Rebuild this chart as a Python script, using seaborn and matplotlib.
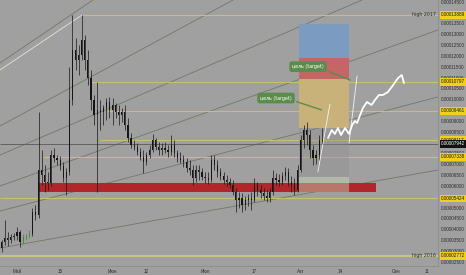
import matplotlib
matplotlib.use("Agg")
import matplotlib.pyplot as plt
import matplotlib.transforms as mtransforms
from matplotlib.patches import Rectangle
import numpy as np
import pandas as pd
import seaborn as sns

SAT = 1e-8  # values below are stored in units of 1e-8

# ---------------- data ----------------
days = list(range(-5, 100))  # days relative to 1 May
opens = [3135, 3412, 3596, 3504, 3642, 3689, 3873, 3412, 3642, 3689,
         3781, 4796, 4658, 6735, 6504, 6181, 6135, 7427, 7289, 7196,
         6919, 6366, 6642, 9965, 12272, 11811, 12042, 12734, 11811, 10980,
         9965, 9273, 9504, 9411, 9596, 9873, 9504, 9734, 9411, 9273,
         9411, 8811, 8211, 7888, 7796, 7565, 7335, 7104, 7427, 7658,
         8119, 7796, 7658, 7750, 7658, 7565, 7888, 7519, 7289, 7196,
         7104, 6827, 6735, 6366, 6735, 6642, 6412, 6366, 6273, 7196,
         6965, 6642, 6458, 6273, 6181, 6042, 5719, 5350, 5442, 5119,
         5350, 5442, 5350, 6042, 5812, 5673, 5535, 5442, 5719, 6366,
         6273, 6181, 6458, 6642, 6181, 6042, 5812, 6735, 8119, 8580,
         8350, 7658, 7289, 7427, 8119]
highs = [3504, 4427, 3873, 3781, 3827, 4104, 3966, 3781, 3781, 3966,
         4981, 5119, 9411, 7658, 6965, 6642, 7658, 7750, 7427, 7381,
         7104, 6827, 11488, 13889, 12826, 12503, 13889, 12965, 12272, 11350,
         10196, 10796, 9965, 9734, 10057, 10104, 10057, 9827, 9734, 9596,
         9734, 9134, 8442, 8119, 7981, 7750, 7658, 7565, 7888, 8396,
         8211, 8027, 7981, 8027, 7888, 8350, 8119, 7658, 7565, 7427,
         7289, 7196, 6965, 6965, 6965, 6827, 6642, 6642, 7427, 7427,
         7196, 6827, 6642, 6504, 6366, 6273, 5904, 5719, 5673, 5535,
         5627, 5719, 6366, 6181, 6042, 5904, 5812, 5904, 6735, 6596,
         6550, 6642, 6873, 6827, 6458, 6366, 6965, 8350, 8811, 8950,
         8580, 7888, 7658, 8350, 8673]
lows = [2950, 3273, 3227, 3365, 3504, 3504, 3181, 3319, 3504, 3596,
        3689, 4427, 4519, 6042, 5719, 5812, 5996, 7104, 6965, 6735,
        6181, 5581, 6504, 9734, 11350, 11119, 11811, 11350, 10657, 9504,
        8811, 5719, 8580, 8811, 9042, 9134, 8811, 9134, 8811, 8950,
        8580, 8027, 7750, 7658, 7427, 7196, 6596, 6965, 7289, 7565,
        7658, 7427, 7427, 7519, 7335, 7427, 7335, 7104, 7058, 6873,
        6642, 6504, 6042, 6181, 6273, 6273, 6135, 6088, 6181, 6735,
        6412, 6273, 6088, 5996, 5904, 5581, 4796, 4981, 4796, 4888,
        5073, 4888, 5257, 5535, 5442, 5350, 5257, 5257, 5581, 6042,
        5996, 6042, 6273, 5996, 5719, 5581, 5719, 6642, 7750, 7888,
        7289, 6965, 7011, 7196, 7888]
closes = [3412, 3596, 3504, 3642, 3689, 3873, 3412, 3642, 3689, 3781,
          4796, 4658, 6735, 6504, 6181, 6135, 7427, 7289, 7196, 6919,
          6366, 6642, 9965, 12272, 11811, 12042, 12734, 11811, 10980, 9965,
          9273, 9504, 9411, 9596, 9873, 9504, 9734, 9411, 9273, 9411,
          8811, 8211, 7888, 7796, 7565, 7335, 7104, 7427, 7658, 8119,
          7796, 7658, 7750, 7658, 7565, 7888, 7519, 7289, 7196, 7104,
          6827, 6735, 6366, 6735, 6642, 6412, 6366, 6273, 7196, 6965,
          6642, 6458, 6273, 6181, 6042, 5719, 5350, 5442, 5119, 5350,
          5442, 5350, 6042, 5812, 5673, 5535, 5442, 5719, 6366, 6273,
          6181, 6458, 6642, 6181, 6042, 5812, 6735, 8119, 8580, 8350,
          7658, 7289, 7427, 8119, 7942]
green_days = [2, 3, 4]

tick_days = [0, 14, 31, 42, 61, 77, 92, 105, 123, 133]
tick_labels = ["Май", "15", "Июн", "12", "Июл", "17", "Авг", "14", "Сен", "11"]

level_values = [13889, 10797, 9461, 8117, 7338, 5424, 2772]
level_start_days = [21.1, 23.7, 29.2, 26.9, 8.4, -5.5, -5.5]
current_price = 7942
level_notes = {13889: "high 2017", 2772: "high 2016"}

fan_start_days = [-5.51, -5.51, -5.51, -5.51, -5.51, -5.51, -5.51]
fan_end_days = [24.65, 21.1, 70.06, 111.9, 136.55, 136.55, 136.55]
fan_start_vals = [11673, 11350, 8765, 7427, 5996, 4842, 3135]
fan_end_vals = [14580, 13889, 14580, 14580, 13196, 10104, 6735]

forecast_days = [100.9, 102.1, 103.1, 104.1, 105.1, 106.4, 107.7, 108.7, 109.6, 110.3,
                 111.3, 112.2, 113.5, 115.0, 116.1, 117.4, 118.7, 120.3, 122.0, 123.6,
                 124.8, 125.5]
forecast_vals = [8211, 8580, 8396, 8673, 8350, 8673, 8396, 8811, 8996, 8904,
                 9273, 9596, 9873, 9734, 9965, 10196, 10196, 10334, 10657, 10980,
                 11119, 10750]

guide_start_days = [97.6, 107.7]
guide_end_days = [101.5, 110.3]
guide_start_vals = [6642, 7981]
guide_end_vals = [9780, 11073]

position_days = [91.6, 107.7]
zone_bounds = [13459, 11917, 10934, 8659, 6425, 5733]
support_days = [7.2, 116.3]
support_vals = [5733, 6121]

target_text = "цель (target)"
target_days = [94.4, 84.0]
target_vals = [11502, 10057]
leader_start_days = [101.2, 90.7]
leader_start_vals = [11271, 9887]
leader_end_days = [108.0, 98.8]
leader_end_vals = [10888, 9504]

# ---------------- style ----------------
sns.set_theme(style="white")
plt.rcParams['font.family'] = ['DejaVu Sans']

BG = '#a0a0a0'
TXT = '#2e2e2e'
LEVEL_C = '#cbbf6e'
FAN_C = '#6f7a64'
FS = 3.4
AXFONT = 'Liberation Sans'
AFS = 3.3

fig = plt.figure(figsize=(4.66, 2.75), dpi=100, facecolor=BG)
ax = fig.add_axes([0, 9 / 275, 438 / 466, 266 / 275], facecolor=BG)
XMIN, XMAX = -5.51, 136.55
ax.set_xlim(XMIN, XMAX)
ax.set_ylim(2304 * SAT, 14580 * SAT)

# fan / trend lines
for i in range(len(fan_start_days)):
    col = '#e8e4d0' if i == 1 else FAN_C
    sns.lineplot(x=[fan_start_days[i], fan_end_days[i]],
                 y=[fan_start_vals[i] * SAT, fan_end_vals[i] * SAT],
                 ax=ax, color=col, lw=0.6, legend=False, zorder=2)

# horizontal levels
for v, s in zip(level_values, level_start_days):
    lw = 1.1 if v == 2772 else 0.8
    col = '#d3d47c' if v == 2772 else LEVEL_C
    ax.hlines(v * SAT, s, XMAX, colors=col, lw=lw, zorder=2)
ax.hlines(current_price * SAT, XMIN, XMAX, colors='#595959', lw=0.6, zorder=2)

# support band
ax.add_patch(Rectangle((support_days[0], support_vals[0] * SAT),
                       support_days[1] - support_days[0],
                       (support_vals[1] - support_vals[0]) * SAT,
                       facecolor='#b0262b', edgecolor='none', zorder=3))

# position zones
zone_colors = ['#7b9cc0', '#c46666', '#c9b27a', '#8e8e8e', '#c4d8b8']
zone_alpha = [1.0, 1.0, 1.0, 0.35, 0.45]
for i in range(len(zone_bounds) - 1):
    top, bot = zone_bounds[i], zone_bounds[i + 1]
    ax.add_patch(Rectangle((position_days[0], bot * SAT),
                           position_days[1] - position_days[0], (top - bot) * SAT,
                           facecolor=zone_colors[i], alpha=zone_alpha[i],
                           edgecolor='none', zorder=3.5))

# candles
df = pd.DataFrame({'day': days, 'open': np.array(opens) * SAT, 'high': np.array(highs) * SAT,
                   'low': np.array(lows) * SAT, 'close': np.array(closes) * SAT})
cols = ['#3d8a35' if d in green_days else '#151515' for d in df.day]
ax.vlines(df.day, df.low, df.high, colors=cols, lw=0.5, zorder=5)
body = (df.close - df.open).abs().clip(lower=25 * SAT)
ax.bar(df.day, body, bottom=df[['open', 'close']].min(axis=1), width=0.38,
       color=cols, linewidth=0, zorder=5)

# forecast drawings
sns.lineplot(x=forecast_days, y=np.array(forecast_vals) * SAT, ax=ax, color='white',
             lw=1.3, sort=False, estimator=None, legend=False, zorder=7)
for i in range(len(guide_start_days)):
    sns.lineplot(x=[guide_start_days[i], guide_end_days[i]],
                 y=[guide_start_vals[i] * SAT, guide_end_vals[i] * SAT],
                 ax=ax, color='#f4f4f4', lw=0.6, legend=False, zorder=6)

# target labels
for i in range(len(target_days)):
    ax.plot([leader_start_days[i], leader_end_days[i]],
            [leader_start_vals[i] * SAT, leader_end_vals[i] * SAT],
            color='#5b8c4a', lw=1.0, zorder=8)
    ax.text(target_days[i], target_vals[i] * SAT, target_text, fontsize=FS, color='white',
            ha='center', va='center', zorder=9,
            bbox=dict(boxstyle='round,pad=0.6,rounding_size=0.5', fc='#5b8c4a', ec='none'))

# axes styling
for s in ['top', 'left']:
    ax.spines[s].set_visible(False)
for s in ['right', 'bottom']:
    ax.spines[s].set_color('#8a8a8a')
    ax.spines[s].set_linewidth(0.5)

ax.set_xticks(tick_days)
ax.set_xticklabels(tick_labels, fontfamily=AXFONT)
ax.tick_params(axis='x', length=0, pad=2.2, labelsize=AFS, labelcolor=TXT)

yticks = [v for v in range(2500, 14501, 500) if v not in (5500, 8000, 9500, 14000)]
ax.yaxis.tick_right()
ax.set_yticks(np.array(yticks) * SAT)
ax.set_yticklabels([f"{v * SAT:.8f}" for v in yticks], fontfamily=AXFONT)
ax.tick_params(axis='y', length=0, pad=2.3, labelsize=AFS, labelcolor=TXT)
ax.set_xlabel('')
ax.set_ylabel('')

trans = mtransforms.blended_transform_factory(ax.transAxes, ax.transData)
for v in level_values:
    ax.text(1.0075, v * SAT, f"{v * SAT:.8f}", transform=trans, fontsize=AFS, color='#1a1a1a',
            fontfamily=AXFONT, ha='left', va='center', clip_on=False, zorder=10,
            bbox=dict(boxstyle='square,pad=0.3', fc='#f2cf1d', ec='none'))
ax.text(1.0075, current_price * SAT, f"{current_price * SAT:.8f}", transform=trans,
        fontsize=AFS, color='white', fontfamily=AXFONT, ha='left', va='center',
        clip_on=False, zorder=10,
        bbox=dict(boxstyle='square,pad=0.3', fc='#111111', ec='none'))
for v, note in level_notes.items():
    ax.text(0.995, v * SAT, note, transform=trans, fontsize=FS, color=TXT,
            ha='right', va='center', zorder=10)

fig.savefig('out.png', dpi=100, facecolor=BG)
